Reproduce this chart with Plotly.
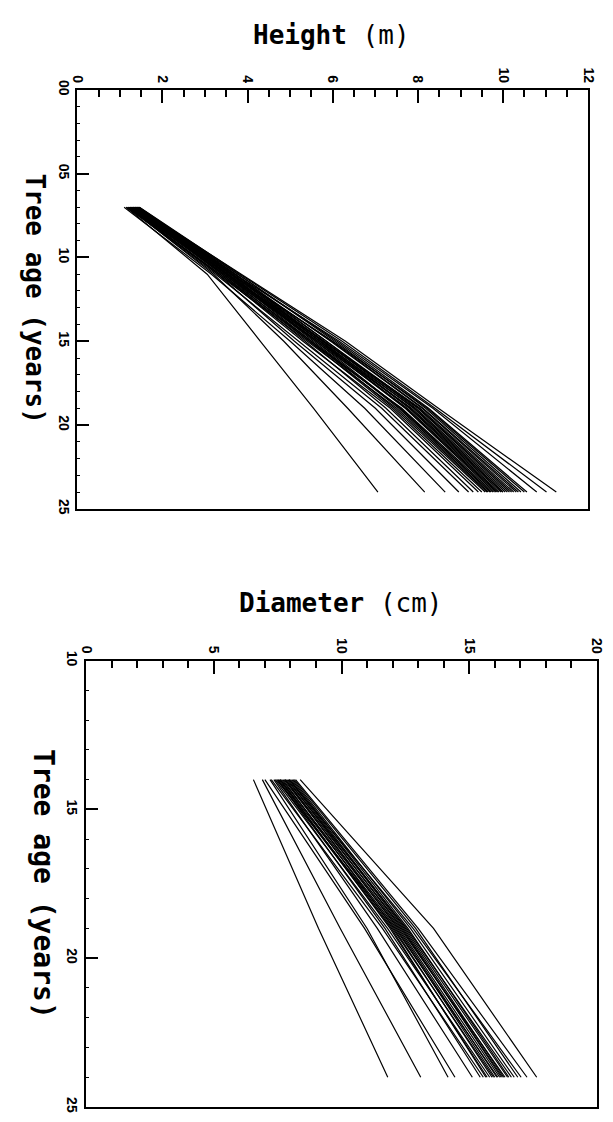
import plotly.graph_objects as go

# ---------------- Height panel data ----------------
height_ages = [7, 11, 15, 19, 24]
# heights (m) of each tree at ages 7, 11, 15, 19, 24
h_age7 = [1.15, 1.20, 1.10, 1.25, 1.18, 1.30, 1.22, 1.28, 1.35, 1.20, 1.32, 1.25, 1.38, 1.15, 1.30, 1.40, 1.27,
          1.33, 1.42, 1.24, 1.36, 1.29, 1.44, 1.31, 1.39, 1.26, 1.41, 1.35, 1.45, 1.33, 1.43, 1.37, 1.46, 1.40]
h_age11 = [3.05, 3.20, 3.15, 3.30, 3.25, 3.40, 3.35, 3.45, 3.50, 3.30, 3.55, 3.40, 3.60, 3.35, 3.50, 3.65, 3.45,
           3.55, 3.70, 3.45, 3.60, 3.50, 3.72, 3.55, 3.65, 3.52, 3.70, 3.62, 3.78, 3.60, 3.75, 3.70, 3.82, 3.85]
h_age15 = [4.30, 4.85, 5.00, 5.10, 5.20, 5.35, 5.30, 5.45, 5.50, 5.40, 5.55, 5.50, 5.60, 5.45, 5.65, 5.70, 5.60,
           5.70, 5.75, 5.65, 5.80, 5.72, 5.85, 5.78, 5.85, 5.80, 5.95, 5.98, 6.05, 6.00, 6.10, 6.15, 6.22, 6.30]
h_age19 = [5.55, 6.35, 6.75, 7.00, 7.15, 7.25, 7.35, 7.40, 7.45, 7.50, 7.55, 7.60, 7.58, 7.62, 7.70, 7.72, 7.75,
           7.80, 7.82, 7.85, 7.90, 7.92, 7.95, 8.00, 8.02, 8.05, 8.10, 8.12, 8.18, 8.22, 8.25, 8.35, 8.40, 8.48]
h_age24 = [7.06, 8.16, 8.64, 8.96, 9.19, 9.30, 9.42, 9.50, 9.58, 9.62, 9.65, 9.69, 9.72, 9.76, 9.80, 9.84, 9.87,
           9.90, 9.95, 9.99, 10.00, 10.05, 10.10, 10.15, 10.20, 10.25, 10.31, 10.36, 10.42, 10.50, 10.56, 10.79,
           11.02, 11.25]

# ---------------- Diameter panel data ----------------
diam_ages = [14, 19, 24]
d_age14 = [6.55, 6.90, 7.20, 7.00, 7.35, 7.50, 7.25, 7.60, 7.40, 7.70, 7.55, 7.80, 7.45, 7.65, 7.90, 7.75, 8.00,
           7.85, 8.10, 7.95, 8.20, 8.38, 7.60, 7.80, 8.05, 7.50, 7.95, 8.15]
d_age19 = [9.10, 9.95, 11.00, 10.90, 11.40, 11.70, 11.60, 11.90, 11.80, 12.05, 12.00, 12.20, 12.10, 12.25, 12.35,
           12.30, 12.50, 12.55, 12.70, 12.80, 13.00, 13.60, 12.15, 12.40, 12.60, 11.95, 12.45, 12.90]
d_age24 = [11.81, 13.10, 14.17, 14.44, 15.12, 15.43, 15.55, 15.70, 15.80, 15.89, 15.95, 16.08, 16.12, 16.19, 16.30,
           16.40, 16.50, 16.65, 16.76, 17.03, 17.26, 17.64, 16.00, 16.25, 16.55, 15.65, 16.35, 16.90]

height_ticks = [0, 2, 4, 6, 8, 10, 12]
height_age_ticks = [0, 5, 10, 15, 20, 25]
height_age_labels = ["00", "05", "10", "15", "20", "25"]
diam_ticks = [0, 5, 10, 15, 20]
diam_age_ticks = [10, 15, 20, 25]
diam_age_labels = ["10", "15", "20", "25"]

# page body keeps an 8px margin, so the figure is sized to fit inside it
OFF = 8
W, H = 597, 1106
fig = go.Figure()

for i in range(len(h_age24)):
    vals = [h_age7[i], h_age11[i], h_age15[i], h_age19[i], h_age24[i]]
    fig.add_trace(go.Scatter(x=vals, y=height_ages, mode="lines",
                             line=dict(color="black", width=1.2), xaxis="x", yaxis="y",
                             showlegend=False, hoverinfo="skip"))

for i in range(len(d_age24)):
    vals = [d_age14[i], d_age19[i], d_age24[i]]
    fig.add_trace(go.Scatter(x=vals, y=diam_ages, mode="lines",
                             line=dict(color="black", width=1.2), xaxis="x2", yaxis="y2",
                             showlegend=False, hoverinfo="skip"))

tickfont = dict(family="Liberation Sans", size=14, color="black", weight="bold")


def px_x(p):
    return (p - OFF) / W


def px_y(p):
    return 1 - (p - OFF) / H


common = dict(showgrid=False, zeroline=False, showline=True, linecolor="black", linewidth=2,
              mirror=True, ticks="inside", tickcolor="black", tickwidth=2, tickfont=tickfont,
              tickangle=90, ticklabeloverflow="allow")

fig.update_layout(
    width=W, height=H,
    margin=dict(l=0, r=0, t=0, b=0),
    paper_bgcolor="white", plot_bgcolor="white",
    xaxis=dict(domain=[px_x(71), px_x(596)], range=[0, 12], side="top", anchor="y",
               tickvals=height_ticks, ticklen=13,
               minor=dict(dtick=0.5, tick0=0, ticklen=7, ticks="inside", tickcolor="black", tickwidth=2),
               **common),
    yaxis=dict(domain=[px_y(506), px_y(81)], range=[25, 0], anchor="x",
               tickvals=height_age_ticks, ticktext=height_age_labels, ticklen=12,
               minor=dict(dtick=1, tick0=0, ticklen=3, ticks="inside", tickcolor="black", tickwidth=1),
               **common),
    xaxis2=dict(domain=[px_x(80), px_x(605)], range=[0, 20], side="top", anchor="y2",
                tickvals=diam_ticks, ticklen=13,
                minor=dict(dtick=1, tick0=0, ticklen=7, ticks="inside", tickcolor="black", tickwidth=2),
                **common),
    yaxis2=dict(domain=[px_y(1113), px_y(660)], range=[25, 10], anchor="x2",
                tickvals=diam_age_ticks, ticktext=diam_age_labels, ticklen=12,
                minor=dict(dtick=1, tick0=10, ticklen=3, ticks="inside", tickcolor="black", tickwidth=1),
                **common),
)

fig.add_annotation(x=px_x(332), y=px_y(25), xref="paper", yref="paper", showarrow=False,
                   text="<b>Height</b> (m)", font=dict(family="DejaVu Sans Mono", size=26, color="black"),
                   xanchor="center", yanchor="middle")
fig.add_annotation(x=px_x(342), y=px_y(602), xref="paper", yref="paper", showarrow=False,
                   text="<b>Diameter</b> (cm)", font=dict(family="DejaVu Sans Mono", size=26, color="black"),
                   xanchor="center", yanchor="middle")
fig.add_annotation(x=px_x(28), y=px_y(293), xref="paper", yref="paper", showarrow=False,
                   text="Tree age (years)",
                   font=dict(family="DejaVu Sans Mono", size=26, color="black", weight="bold"),
                   textangle=90, xanchor="center", yanchor="middle")
fig.add_annotation(x=px_x(36), y=px_y(887), xref="paper", yref="paper", showarrow=False,
                   text="Tree age (years)",
                   font=dict(family="DejaVu Sans Mono", size=28, color="black", weight="bold"),
                   textangle=90, xanchor="center", yanchor="middle")

fig.write_html("out.html")
